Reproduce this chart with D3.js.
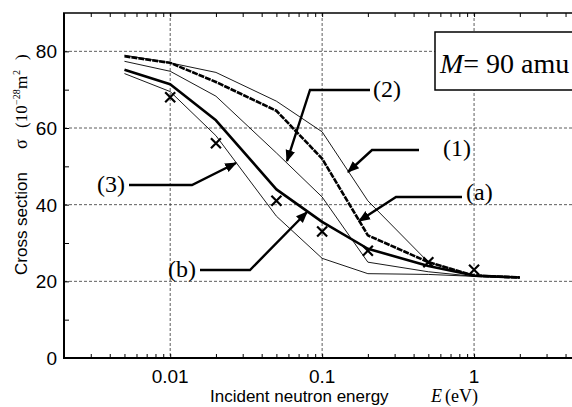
<!DOCTYPE html>
<html><head><meta charset="utf-8">
<script src="https://cdn.jsdelivr.net/npm/d3@7"></script>
<style>body{margin:0;background:#fff}svg{display:block}</style>
</head><body>
<svg id="c" width="572" height="407"></svg>
<script>
const energies = [0.005, 0.01, 0.02, 0.05, 0.1, 0.2, 0.5, 1, 2];
const curve1 = [79, 77, 74.5, 67, 59, 41, 25, 21.5, 21];
const curveA = [78.7, 77, 72, 64.5, 52, 32, 25, 21.5, 21];
const curve2 = [77.4, 74.8, 68.3, 53.5, 42, 25, 22.5, 21.3, 21];
const curveB = [75.2, 71.4, 62, 44, 35.5, 28.5, 24, 21.5, 21];
const curve3 = [74.2, 69.5, 58, 37, 26, 22, 21.8, 21.3, 21];
const expE = [0.01, 0.02, 0.05, 0.1, 0.2, 0.5, 1];
const expSigma = [68, 56, 41, 33, 28, 25, 23];
const yTicks = [0, 20, 40, 60, 80];
const xTicks = [0.01, 0.1, 1];
const xTickLabels = ["0.01", "0.1", "1"];

const svg = d3.select("#c");
const L = 64, R = 626, T = 13, B = 358;
const x = d3.scaleLog().domain([0.002, 10]).range([L, R]);
const y = d3.scaleLinear().domain([0, 90]).range([B, T]);

// grid
const g = svg.append("g");
g.selectAll(".gy").data([20,40,60,80]).enter().append("line")
  .attr("x1", L).attr("x2", 572).attr("y1", d=>y(d)).attr("y2", d=>y(d))
  .attr("stroke", "#333").attr("stroke-width", 0.8).attr("stroke-dasharray", "3,2");
g.selectAll(".gx").data(xTicks).enter().append("line")
  .attr("y1", T).attr("y2", B).attr("x1", d=>x(d)).attr("x2", d=>x(d))
  .attr("stroke", "#333").attr("stroke-width", 0.8).attr("stroke-dasharray", "3,2");

// minor ticks
const minorX = [];
for (let dec = 0.001; dec < 10; dec *= 10) for (let k = 1; k < 10; k++) {
  const v = +(dec * k).toPrecision(3); if (v >= 0.002 && v <= 10) minorX.push(v);
}
const font = "'Liberation Sans', Arial, sans-serif";
const serif = "'Liberation Serif', 'Times New Roman', serif";

const xb = d3.axisBottom(x).tickValues(minorX).tickSize(-4).tickFormat("");
svg.append("g").attr("transform", `translate(0,${B})`).call(xb)
  .call(s => s.select(".domain").remove())
  .selectAll("line").attr("stroke", "#000").attr("stroke-width", 1);
const xt = d3.axisTop(x).tickValues(minorX).tickSize(-4).tickFormat("");
svg.append("g").attr("transform", `translate(0,${T})`).call(xt)
  .call(s => s.select(".domain").remove())
  .selectAll("line").attr("stroke", "#000").attr("stroke-width", 1);

const ya = d3.axisLeft(y).tickValues([0,10,20,30,40,50,60,70,80]).tickSize(-5).tickFormat("");
svg.append("g").attr("transform", `translate(${L},0)`).call(ya)
  .call(s => s.select(".domain").remove())
  .selectAll("line").attr("stroke", "#000").attr("stroke-width", 1);

// frame
svg.append("line").attr("x1", L).attr("x2", L).attr("y1", T).attr("y2", B+1).attr("stroke", "#000").attr("stroke-width", 2);
svg.append("line").attr("x1", L-1).attr("x2", 572).attr("y1", B).attr("y2", B).attr("stroke", "#000").attr("stroke-width", 2);
svg.append("line").attr("x1", L-1).attr("x2", 572).attr("y1", T).attr("y2", T).attr("stroke", "#000").attr("stroke-width", 1.5);

// tick labels
svg.selectAll(".yl").data(yTicks).enter().append("text")
  .attr("x", 57).attr("y", d=>y(d)+7).attr("text-anchor", "end")
  .attr("font-family", font).attr("font-size", 19).text(d=>d);
svg.selectAll(".xl").data(xTicks).enter().append("text")
  .attr("x", d=>x(d)).attr("y", 383).attr("text-anchor", "middle")
  .attr("font-family", font).attr("font-size", 19).text((d,i)=>xTickLabels[i]);

// curves
const line = d3.line().x(d=>x(d[0])).y(d=>y(d[1]));
function draw(vals, w, dash) {
  svg.append("path").datum(energies.map((e,i)=>[e, vals[i]]))
    .attr("d", line).attr("fill", "none").attr("stroke", "#000")
    .attr("stroke-width", w).attr("stroke-linejoin", "round")
    .attr("stroke-dasharray", dash || null);
}
draw(curve1, 0.9);
draw(curve2, 0.9);
draw(curve3, 0.9);
draw(curveA, 2.6, "6,1");
draw(curveB, 2.6);

// crosses
const cs = 5;
expE.forEach((e,i) => {
  const cx = x(e), cy = y(expSigma[i]);
  svg.append("path").attr("d", `M${cx-cs},${cy-cs}L${cx+cs},${cy+cs}M${cx-cs},${cy+cs}L${cx+cs},${cy-cs}`)
    .attr("stroke", "#000").attr("stroke-width", 2.2);
});

// annotations with arrows
svg.append("defs").append("marker").attr("id", "ah").attr("viewBox", "0 0 10 10")
  .attr("refX", 9).attr("refY", 5).attr("markerWidth", 5).attr("markerHeight", 5)
  .attr("orient", "auto").attr("markerUnits", "strokeWidth")
  .append("path").attr("d", "M0,1L10,5L0,9z").attr("fill", "#000");
const notes = [
  {t:"(1)", tx:443, ty:156, pts:[[419,150],[372,150],[348,172]]},
  {t:"(2)", tx:373, ty:97, pts:[[370,90],[310,90],[287,161]]},
  {t:"(3)", tx:97, ty:192, pts:[[129,185],[192,185],[236,163]]},
  {t:"(a)", tx:466, ty:200, pts:[[462,197],[396,197],[359,221]]},
  {t:"(b)", tx:168, ty:277, pts:[[200,270],[250,270],[307,212]]}
];
notes.forEach(n => {
  svg.append("polyline").attr("points", n.pts.map(p=>p.join(",")).join(" "))
    .attr("fill", "none").attr("stroke", "#000").attr("stroke-width", 2.4)
    .attr("marker-end", "url(#ah)");
  svg.append("text").attr("x", n.tx).attr("y", n.ty).attr("font-family", serif)
    .attr("font-size", 24).text(n.t);
});

// M box
svg.append("rect").attr("x", 435).attr("y", 32).attr("width", 150).attr("height", 58)
  .attr("fill", "#fff").attr("stroke", "#000").attr("stroke-width", 1.5);
const mt = svg.append("text").attr("x", 440).attr("y", 73).attr("font-family", serif).attr("font-size", 28);
mt.append("tspan").attr("font-style", "italic").text("M");
mt.append("tspan").text("= 90 amu");

// axis titles
const xtit = svg.append("text").attr("x", 210).attr("y", 402).attr("font-family", font).attr("font-size", 17);
xtit.append("tspan").text("Incident neutron energy");
xtit.append("tspan").attr("x", 431).attr("font-family", serif).attr("font-style", "italic").attr("font-size", 18).text("E");
xtit.append("tspan").attr("x", 445).attr("font-family", serif).attr("font-size", 18).text("(eV)");

const yt = svg.append("text").attr("transform", "translate(27,281) rotate(-90)")
  .attr("font-family", font).attr("font-size", 17);
yt.append("tspan").attr("x", 6).text("Cross section");
yt.append("tspan").attr("x", 132).attr("font-family", serif).attr("font-size", 18).text("σ");
yt.append("tspan").attr("x", 153).attr("font-family", serif).attr("font-size", 17).text("(10");
yt.append("tspan").attr("x", 176).attr("dy", -7).attr("font-family", serif).attr("font-size", 10).text("−28");
yt.append("tspan").attr("x", 192).attr("dy", 7).attr("font-family", serif).attr("font-size", 17).text("m");
yt.append("tspan").attr("x", 206).attr("dy", -7).attr("font-family", serif).attr("font-size", 10).text("2");
yt.append("tspan").attr("x", 221).attr("dy", 7).attr("font-family", serif).attr("font-size", 17).text(")");
</script>
</body></html>
